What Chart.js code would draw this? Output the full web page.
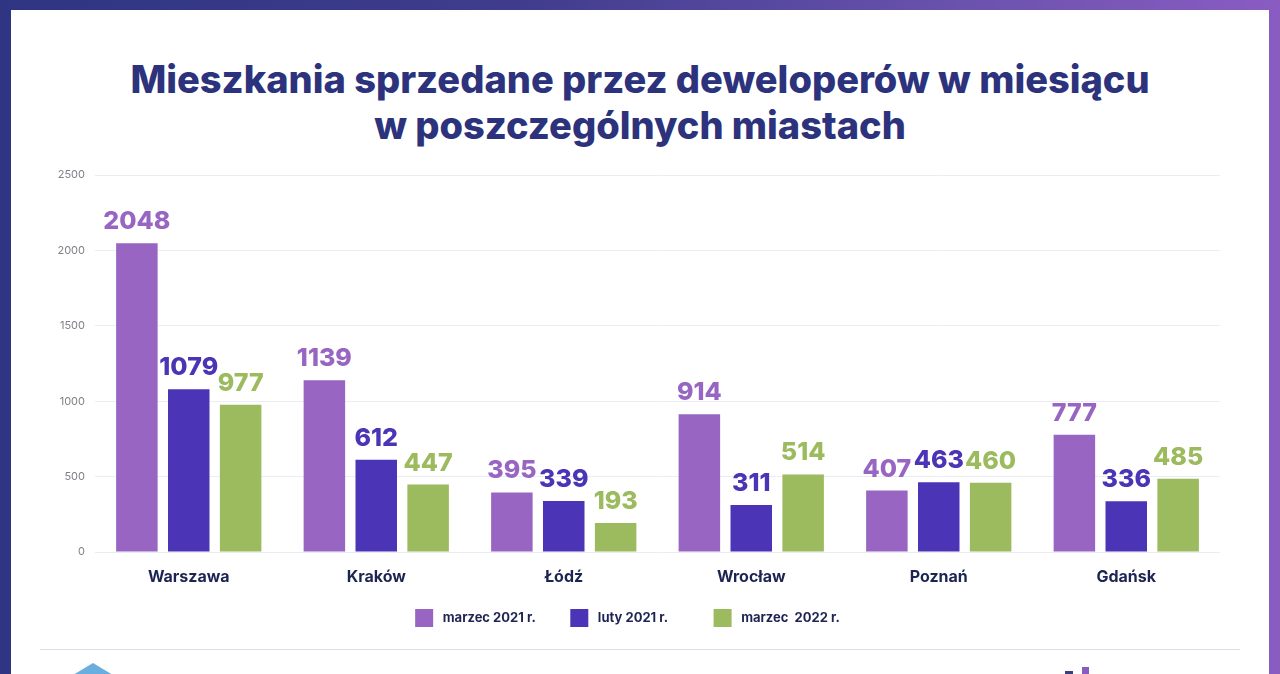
<!DOCTYPE html>
<html lang="pl">
<head>
<meta charset="utf-8">
<script src="https://cdn.jsdelivr.net/npm/chart.js@4.4.1/dist/chart.umd.min.js"></script>
<style>
  html, body { margin: 0; padding: 0; }
  body {
    width: 1280px; height: 674px; overflow: hidden; position: relative;
    background: linear-gradient(90deg, #2f3582 0%, #3f3c8d 40%, #6a52ad 75%, #8a5cc2 100%);
    font-family: Inter, "Open Sans", sans-serif;
  }
  #panel { position: absolute; left: 11px; top: 10px; width: 1258px; height: 664px; background: #fff; }
  #title {
    position: absolute; left: 0; top: 46px; width: 1258px; text-align: center;
    color: #2c337c; font-weight: 800; font-size: 38px; line-height: 46px; letter-spacing: 0px;
  }
  #chartBox { position: absolute; left: 0; top: 0; width: 1258px; height: 664px; }
  #sep { position: absolute; left: 29px; top: 639px; width: 1200px; height: 1px; background: #dedde9; }
  #roof {
    position: absolute; left: 62px; top: 653px; width: 0; height: 0;
    border-left: 20px solid transparent; border-right: 20px solid transparent; border-bottom: 12px solid #6aaee0;
  }
  #mark1 { position: absolute; left: 1054px; top: 661px; width: 8px; height: 3px; background: #3a3f80; }
  #mark2 { position: absolute; left: 1071px; top: 657px; width: 7px; height: 7px; background: #8a5cc2; }
</style>
</head>
<body>
<div id="panel">
  <div id="title">Mieszkania sprzedane przez deweloperów w miesiącu<br>w poszczególnych miastach</div>
  <div id="sep"></div>
  <div id="roof"></div>
  <div id="mark1"></div>
  <div id="mark2"></div>
  <div id="chartBox"><canvas id="chart"></canvas></div>
</div>
<script>
const cities = ["Warszawa", "Kraków", "Łódź", "Wrocław", "Poznań", "Gdańsk"];
const march2021 = [2048, 1139, 395, 914, 407, 777];
const feb2021 = [1079, 612, 339, 311, 463, 336];
const march2022 = [977, 447, 193, 514, 460, 485];
const seriesNames = ["marzec 2021 r.", "luty 2021 r.", "marzec  2022 r."];
const seriesColors = ["#9866c2", "#4c34b6", "#9cba5e"];
const yTicks = [0, 500, 1000, 1500, 2000, 2500];
const legendGaps = ["\u2003\u2002\u2009", "\u2003\u2003\u2002", ""];

// draws the number above every bar in the bar's own colour
const barValues = {
  id: "barValues",
  afterDatasetsDraw(chart) {
    const ctx = chart.ctx;
    ctx.save();
    ctx.font = "800 25px Inter, 'Open Sans', sans-serif";
    ctx.textAlign = "center";
    ctx.textBaseline = "alphabetic";
    chart.data.datasets.forEach((ds, i) => {
      const meta = chart.getDatasetMeta(i);
      ctx.fillStyle = ds.backgroundColor;
      meta.data.forEach((bar, j) => {
        ctx.fillText(ds.data[j], bar.x, bar.y - 14);
      });
    });
    ctx.restore();
  }
};

const allSeries = [march2021, feb2021, march2022];
let datasets = [];
for (let i = 0; i < allSeries.length; i++) {
  datasets.push({
    label: seriesNames[i],
    data: allSeries[i],
    backgroundColor: seriesColors[i],
    borderWidth: 0,
    categoryPercentage: 0.83,
    barPercentage: 0.8
  });
}

new Chart(document.getElementById("chart"), {
  type: "bar",
  data: { labels: cities, datasets: datasets },
  plugins: [barValues],
  options: {
    responsive: true,
    maintainAspectRatio: false,
    animation: false,
    layout: { padding: { top: 165, left: 24, right: 49, bottom: 37 } },
    plugins: {
      tooltip: { enabled: false },
      legend: {
        position: "bottom",
        labels: {
          boxWidth: 18,
          boxHeight: 18,
          padding: 13,
          color: "#1f2552",
          font: { family: "Inter, 'Open Sans', sans-serif", size: 13, weight: "700" },
          // a leading space widens the gap after the box, trailing spaces the gap to the next item
          generateLabels(chart) {
            const items = Chart.defaults.plugins.legend.labels.generateLabels(chart);
            items.forEach((it, i) => {
              it.text = " " + it.text + legendGaps[i];
              it.lineWidth = 0;
            });
            return items;
          }
        }
      }
    },
    scales: {
      x: {
        grid: { display: false },
        border: { display: false },
        ticks: {
          color: "#1c2452",
          padding: 8,
          font: { family: "Inter, 'Open Sans', sans-serif", size: 16, weight: "700" }
        },
        afterFit(scale) { scale.height = 44; }
      },
      y: {
        min: 0,
        max: 2500,
        afterBuildTicks(scale) { scale.ticks = yTicks.map(v => ({ value: v })); },
        afterFit(scale) { scale.width = 60; },
        grid: { color: "#ececf4", lineWidth: 1, drawTicks: false },
        border: { display: false },
        ticks: {
          color: "#808088",
          padding: 10,
          font: { family: "Inter, 'Open Sans', sans-serif", size: 11 },
          callback: (v) => String(v)
        }
      }
    }
  }
});
</script>
</body>
</html>
